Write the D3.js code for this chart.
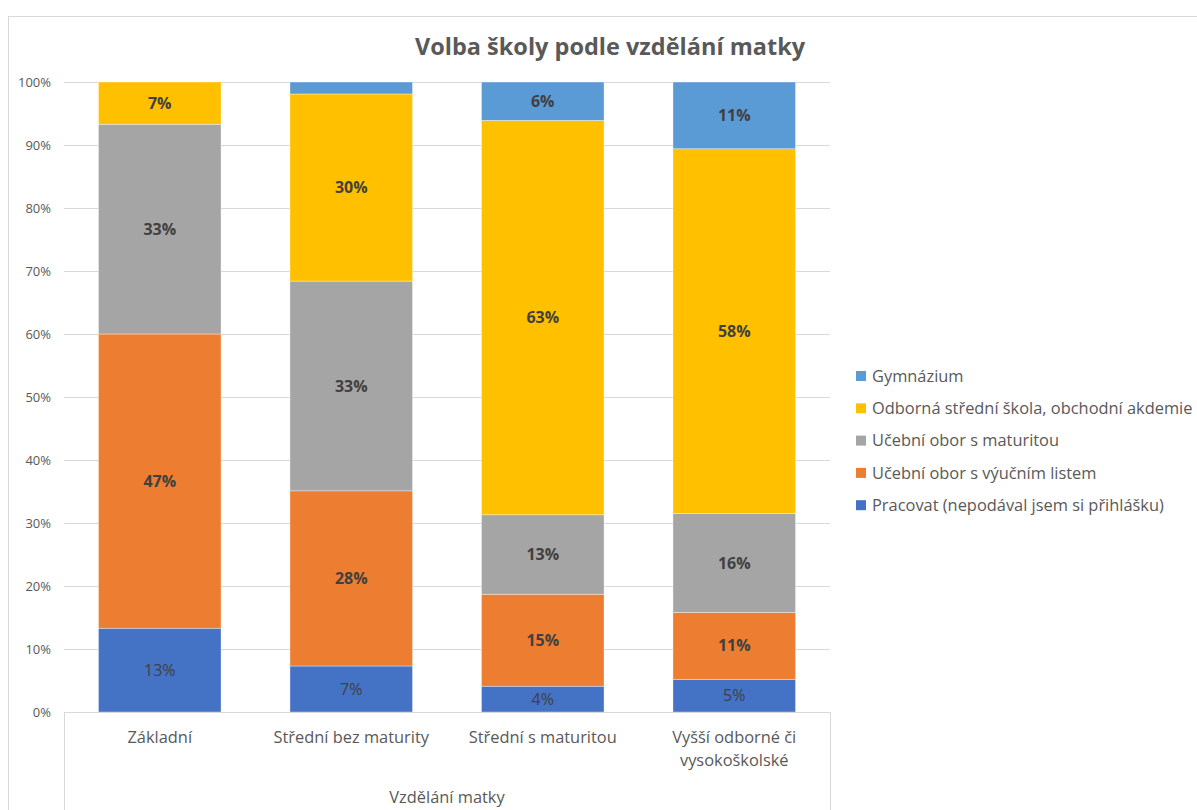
<!DOCTYPE html>
<html>
<head>
<meta charset="utf-8">
<script src="https://cdn.jsdelivr.net/npm/d3@7"></script>
<style>
  body { margin: 0; background: #fff; }
  svg { display: block; font-family: "Open Sans", "Noto Sans", sans-serif; }
</style>
</head>
<body>
<svg id="chart" width="1197" height="810"></svg>
<script>
// data
const categories = ['Základní', 'Střední bez maturity', 'Střední s maturitou', 'Vyšší odborné či vysokoškolské'];
const categoryLines = [['Základní'], ['Střední bez maturity'], ['Střední s maturitou'], ['Vyšší odborné či', 'vysokoškolské']];
const seriesNames = ['Pracovat (nepodával jsem si přihlášku)', 'Učební obor s výučním listem', 'Učební obor s maturitou', 'Odborná střední škola, obchodní akdemie', 'Gymnázium'];
const pracovat = [13.3, 7.3, 4.1, 5.2];
const vyucni = [46.7, 27.8, 14.6, 10.6];
const sMaturitou = [33.3, 33.3, 12.6, 15.7];
const odborna = [6.7, 29.7, 62.6, 57.9];
const gymnazium = [0, 1.9, 6.1, 10.6];
const yTicks = [0, 0.1, 0.2, 0.3, 0.4, 0.5, 0.6, 0.7, 0.8, 0.9, 1];

const colors = ['#4472C4', '#ED7D31', '#A5A5A5', '#FFC000', '#5B9BD5'];
const allSeries = [pracovat, vyucni, sMaturitou, odborna, gymnazium];

const rows = categories.map((c, i) => {
  const r = { cat: c };
  seriesNames.forEach((s, j) => r[s] = allSeries[j][i] / 100);
  return r;
});
const stacked = d3.stack().keys(seriesNames)(rows);

const svg = d3.select('#chart');
const plotLeft = 64, plotRight = 830, plotTop = 82, plotBottom = 712;

// chart border (cropped by the image)
svg.append('rect').attr('x', 8.5).attr('y', 16.5).attr('width', 1300).attr('height', 900)
  .attr('fill', 'none').attr('stroke', '#d9d9d9');

svg.append('text').attr('x', 610).attr('y', 55).attr('text-anchor', 'middle')
  .attr('font-size', 23.5).attr('font-weight', 'bold').attr('fill', '#595959')
  .text('Volba školy podle vzdělání matky');

const x = d3.scaleBand().domain(categories).range([plotLeft, plotRight]).paddingInner(0.36).paddingOuter(0.18);
const y = d3.scaleLinear().domain([0, 1]).range([plotBottom, plotTop]);

// gridlines + y axis
const yAxis = d3.axisLeft(y).tickValues(yTicks).tickFormat(d3.format('.0%')).tickSize(-(plotRight - plotLeft)).tickPadding(13);
const gy = svg.append('g').attr('transform', `translate(${plotLeft},0)`).call(yAxis);
gy.select('.domain').remove();
gy.selectAll('line').attr('stroke', '#d9d9d9');
gy.selectAll('text').attr('fill', '#595959').attr('font-size', 13).attr('font-family', '"Open Sans", sans-serif');

// bars
const layers = svg.append('g').selectAll('g').data(stacked).join('g').attr('fill', (d, i) => colors[i]);
layers.selectAll('rect').data(d => d).join('rect')
  .attr('x', d => x(d.data.cat))
  .attr('width', x.bandwidth())
  .attr('y', d => y(d[1]))
  .attr('height', d => y(d[0]) - y(d[1]))
  .attr('stroke', '#fff').attr('stroke-width', 0.6).attr('stroke-opacity', 0.6);

// labels
layers.each(function (s, i) {
  d3.select(this).selectAll('text').data(s.filter(d => d[1] - d[0] >= 0.03)).join('text')
    .attr('x', d => x(d.data.cat) + x.bandwidth() / 2)
    .attr('y', d => (y(d[0]) + y(d[1])) / 2)
    .attr('dy', '0.35em')
    .attr('text-anchor', 'middle')
    .attr('font-size', 16)
    .attr('font-weight', i === 0 ? 'normal' : 'bold')
    .attr('fill', '#404040')
    .text(d => Math.round((d[1] - d[0]) * 100) + '%');
});

// category axis box
const axisLines = svg.append('g').attr('stroke', '#d9d9d9');
axisLines.append('line').attr('x1', plotLeft).attr('x2', plotRight).attr('y1', plotBottom + 0.5).attr('y2', plotBottom + 0.5);
axisLines.append('line').attr('x1', plotLeft + 0.5).attr('x2', plotLeft + 0.5).attr('y1', plotBottom).attr('y2', 810);
axisLines.append('line').attr('x1', plotRight + 0.5).attr('x2', plotRight + 0.5).attr('y1', plotBottom).attr('y2', 810);

const cat = svg.append('g').selectAll('text').data(categories).join('text')
  .attr('x', d => x(d) + x.bandwidth() / 2)
  .attr('y', 743)
  .attr('text-anchor', 'middle')
  .attr('font-size', 16.4).attr('fill', '#595959');
cat.each(function (d, i) {
  d3.select(this).selectAll('tspan').data(categoryLines[i]).join('tspan')
    .attr('x', x(d) + x.bandwidth() / 2)
    .attr('dy', (t, k) => k === 0 ? 0 : 23)
    .text(t => t);
});

svg.append('text').attr('x', 447).attr('y', 803).attr('text-anchor', 'middle')
  .attr('font-size', 16.4).attr('fill', '#595959').text('Vzdělání matky');

// legend, top entry is the last series
const legendOrder = seriesNames.map((s, i) => i).reverse();
const lg = svg.append('g').selectAll('g').data(legendOrder).join('g')
  .attr('transform', (d, k) => `translate(856,${376 + k * 32.3})`);
lg.append('rect').attr('x', 0).attr('y', -5).attr('width', 10).attr('height', 10).attr('fill', d => colors[d]);
lg.append('text').attr('x', 16).attr('dy', '0.35em').attr('font-size', 16.4).attr('fill', '#595959')
  .text(d => seriesNames[d]);
</script>
</body>
</html>
